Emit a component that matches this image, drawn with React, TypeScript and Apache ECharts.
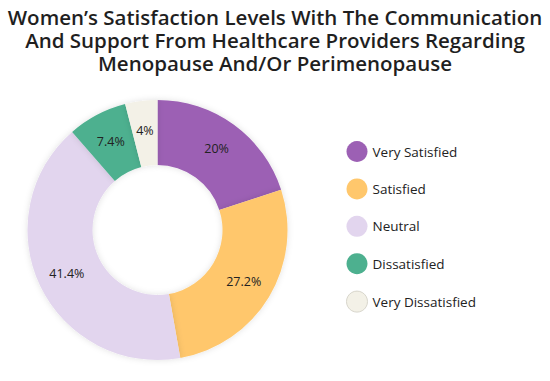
import React, { useEffect, useRef } from "react";
import * as echarts from "echarts";

const titleLines = [
  "Women’s Satisfaction Levels With The Communication",
  "And Support From Healthcare Providers Regarding",
  "Menopause And/Or Perimenopause",
];
const categories = ["Very Satisfied", "Satisfied", "Neutral", "Dissatisfied", "Very Dissatisfied"];
const values = [20, 27.2, 41.4, 7.4, 4];
const colors = ["#9C60B4", "#FFC76C", "#E2D5EE", "#4DB08F", "#F3F1E7"];

export default function App() {
  const ref = useRef<HTMLDivElement>(null);
  useEffect(() => {
    const chart = echarts.init(ref.current!, undefined, { renderer: "svg" });
    chart.setOption({
      animation: false,
      backgroundColor: "#ffffff",
      title: {
        text: titleLines.join("\n"),
        left: "center",
        top: 0,
        textStyle: {
          fontFamily: "Open Sans",
          fontSize: 20.5,
          fontWeight: 600,
          lineHeight: 23,
          color: "#1f1f1f",
        },
      },
      legend: {
        orient: "vertical",
        left: 341,
        top: 136,
        icon: "circle",
        itemWidth: 21,
        itemHeight: 21,
        itemGap: 16.4,
        data: categories.map((c, i) => ({
          name: c,
          itemStyle: i === 4 ? { borderColor: "#d8d6cc", borderWidth: 1 } : {},
        })),
        textStyle: { fontFamily: "Open Sans", fontSize: 13.5, fontWeight: 500, color: "#222", padding: [0, 0, 0, 0] },
      },
      series: [
        {
          type: "pie",
          center: [157.5, 230],
          radius: [65, 130],
          startAngle: 90,
          clockwise: true,
          itemStyle: { shadowBlur: 6, shadowColor: "rgba(0,0,0,0.12)" },
          label: {
            position: "inside",
            formatter: (p: any) => p.value + "%",
            fontFamily: "Open Sans",
            fontSize: 12.5,
            fontWeight: 500,
            color: "#222",
          },
          labelLine: { show: false },
          data: categories.map((c, i) => ({
            name: c,
            value: values[i],
            itemStyle: { color: colors[i] },
          })),
        },
      ],
    });
    return () => chart.dispose();
  }, []);
  return (
    <div
      ref={ref}
      style={{ position: "fixed", left: 0, top: 0, width: 550, height: 381 }}
    />
  );
}
